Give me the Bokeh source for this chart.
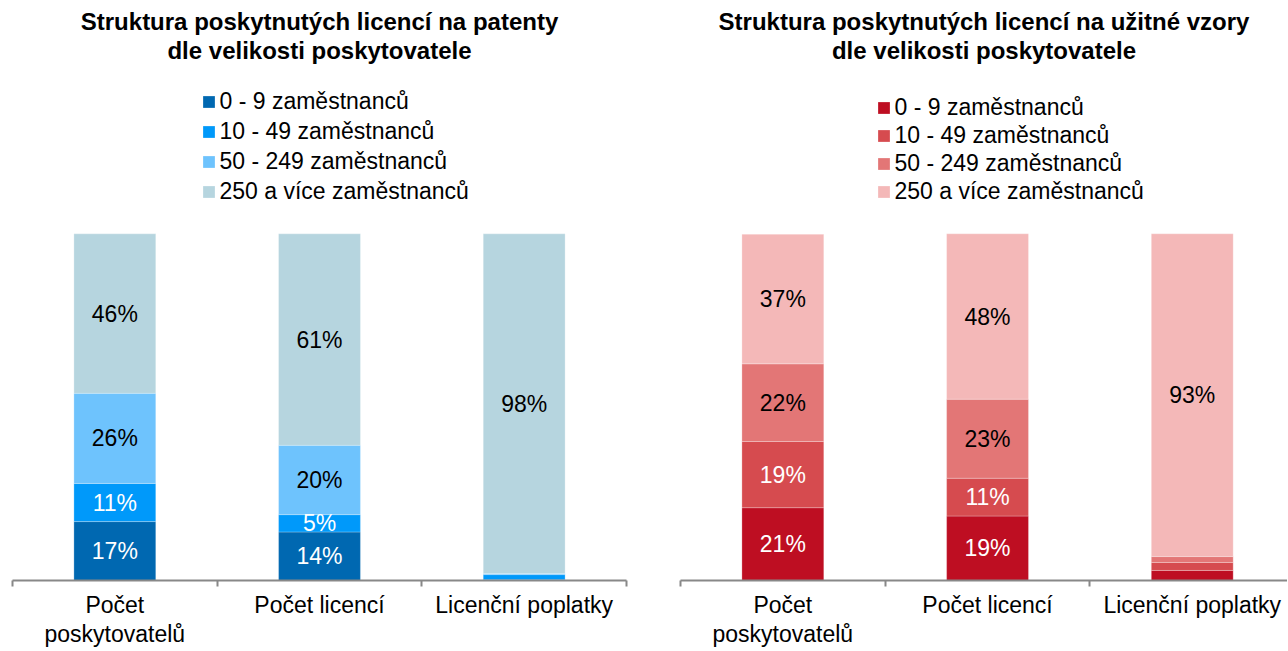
from bokeh.plotting import figure
from bokeh.layouts import row
from bokeh.models import ColumnDataSource, Range1d, FixedTicker, Legend, LegendItem, Title
from bokeh.core.properties import value
from bokeh.embed import file_html
from bokeh.resources import INLINE

# ---- data ----
categories = ["Počet\nposkytovatelů", "Počet licencí", "Licenční poplatky"]
series_names = ["0 - 9 zaměstnanců", "10 - 49 zaměstnanců", "50 - 249 zaměstnanců", "250 a více zaměstnanců"]

pat_0_9 = [17, 14, 0.2]
pat_10_49 = [11, 5, 1.5]
pat_50_249 = [26, 20, 0.3]
pat_250 = [46, 61, 98]

uv_0_9 = [21.0, 18.6, 2.9]
uv_10_49 = [19.1, 10.9, 2.3]
uv_50_249 = [22.4, 22.8, 1.7]
uv_250 = [37.4, 47.7, 93.1]

title_pat = ["Struktura poskytnutých licencí na patenty", "dle velikosti poskytovatele"]
title_uv = ["Struktura poskytnutých licencí na užitné vzory", "dle velikosti poskytovatele"]

blues = ["#0068B1", "#0099FA", "#6EC3FD", "#B6D5DF"]
reds = ["#BE0E22", "#D64B4F", "#E37676", "#F4B8B8"]
label_colors = ["white", "white", "black", "black"]

FONT = "Liberation Sans"
FRAME_TOP = 63.0     # expected page px of frame top
FRAME_BOT = 582.0    # expected page px of frame bottom (axis)
BAR_PX = 348.0       # px height of a 100 % bar
FIG_H = 649


def make_panel(series, colors, titles, width, border_left, border_right, x_end,
               legend_x, legend_bottom, spacing):
    ytop = (FRAME_BOT - FRAME_TOP) / BAR_PX * 100.0
    p = figure(width=width, height=FIG_H, x_range=Range1d(0, x_end), y_range=Range1d(0, ytop),
               output_backend="svg", toolbar_location=None, min_border_left=border_left,
               min_border_right=border_right, min_border_top=63, min_border_bottom=0,
               title=None)
    for t in reversed(titles):
        p.add_layout(Title(text=t, align="center", text_font=FONT, text_font_size="24px",
                           text_font_style="bold", text_color="black", standoff=0), "above")
    p.outline_line_color = None
    p.xgrid.visible = False
    p.ygrid.visible = False
    p.yaxis.visible = False

    xs = [i + 0.5 for i in range(len(categories))]
    data = {"x": xs}
    keys = []
    for i, s in enumerate(series):
        k = f"s{i}"
        keys.append(k)
        data[k] = s
    src = ColumnDataSource(data)
    rends = p.vbar_stack(keys, x="x", width=0.4, source=src, color=colors,
                         line_color="white", line_alpha=0.25, line_width=1)

    # value labels
    lx, ly, lt, lc = [], [], [], []
    for j in range(len(xs)):
        base = 0.0
        for i, s in enumerate(series):
            v = s[j]
            if v >= 3:
                lx.append(xs[j]); ly.append(base + v / 2); lt.append(f"{round(v)}%"); lc.append(label_colors[i])
            base += v
    p.text(x=lx, y=ly, text=lt, text_color=lc, text_align="center", text_baseline="middle",
           text_font=value(FONT), text_font_size="23px")

    legend = Legend(items=[LegendItem(label=n, renderers=[r]) for n, r in zip(series_names, rends)],
                    location=(legend_x, legend_bottom), orientation="vertical",
                    glyph_width=15, glyph_height=15, label_height=20, spacing=spacing,
                    label_standoff=4, padding=0, margin=0, border_line_color=None,
                    background_fill_alpha=0, label_text_font=FONT, label_text_font_size="23px",
                    label_text_color="black")
    p.add_layout(legend, "center")

    ax = p.xaxis[0]
    ax.ticker = FixedTicker(ticks=xs, minor_ticks=[0, 1, 2, 3])
    ax.major_label_overrides = {x: c for x, c in zip(xs, categories)}
    ax.major_tick_line_color = None
    ax.major_tick_out = 0
    ax.major_tick_in = 0
    ax.minor_tick_out = 6
    ax.minor_tick_in = 0
    ax.minor_tick_line_color = "#888888"
    ax.minor_tick_line_width = 2
    ax.axis_line_color = "#888888"
    ax.axis_line_width = 2
    ax.major_label_text_font = FONT
    ax.major_label_text_font_size = "23px"
    ax.major_label_text_line_height = 1.12
    ax.major_label_text_color = "black"
    ax.major_label_standoff = 5
    return p


p1 = make_panel([pat_0_9, pat_10_49, pat_50_249, pat_250], blues, title_pat,
                width=667, border_left=12, border_right=41, x_end=3.0,
                legend_x=188.5, legend_bottom=375, spacing=3)
p2 = make_panel([uv_0_9, uv_10_49, uv_50_249, uv_250], reds, title_uv,
                width=620, border_left=13, border_right=0, x_end=607 / 204.7,
                legend_x=195.5, legend_bottom=375, spacing=1)

layout = row(p1, p2, spacing=0)
open("out.html", "w").write(file_html(layout, INLINE))
